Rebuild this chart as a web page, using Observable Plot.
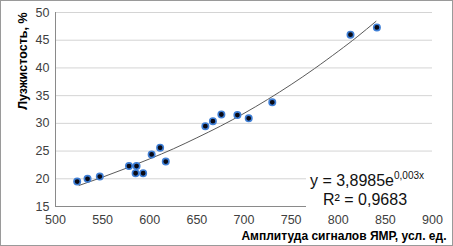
<!DOCTYPE html>
<html>
<head>
<meta charset="utf-8">
<script src="https://cdn.jsdelivr.net/npm/d3@7"></script>
<script src="https://cdn.jsdelivr.net/npm/@observablehq/plot@0.6"></script>
<style>
  body { margin: 0; background: #fff; }
  #chart svg { display: block; outline: 1.5px solid #9a9a9a; outline-offset: -1px; }
</style>
</head>
<body>
<div id="chart"></div>
<script>
// Observed data: amplitude of NMR signal (x) vs. hull content, % (y)
const amplitude = [523, 534, 547, 578, 586, 585, 593, 602, 611, 617, 659, 667, 676, 693, 705, 730, 813, 841];
const hullPct   = [19.5, 20.0, 20.4, 22.3, 22.3, 21.0, 21.0, 24.4, 25.6, 23.1, 29.5, 30.4, 31.6, 31.5, 30.9, 33.8, 46.0, 47.3];

// Exponential trendline, values
const trendX = [525, 550, 575, 600, 625, 650, 675, 700, 725, 750, 775, 800, 820, 840];
const trendY = [18.8, 20.3, 21.9, 23.6, 25.4, 27.4, 29.5, 31.8, 34.3, 37.0, 39.9, 43.0, 45.6, 48.4];

const xTicks = [500, 550, 600, 650, 700, 750, 800, 850, 900];
const yTicks = [15, 20, 25, 30, 35, 40, 45, 50];

const eqMain = "y = 3,8985e";
const eqSup = "0,003x";
const eqR2 = "R² = 0,9683";
const xTitle = "Амплитуда сигналов ЯМР, усл. ед.";
const yTitle = "Лузжистость, %";

const points = amplitude.map((x, i) => ({x, y: hullPct[i]}));
const trend = trendX.map((x, i) => ({x, y: trendY[i]}));

const W = 453, H = 246;
const mL = 55, mR = 21, mT = 12, mB = 40;

const equationBox = (index, scales, values, dims) => {
  const g = d3.create("svg:g");
  const right = dims.width - dims.marginRight;
  const bottom = dims.height - dims.marginBottom;
  g.append("rect")
    .attr("x", right - 126).attr("y", bottom - 37)
    .attr("width", 127).attr("height", 45)
    .attr("fill", "#fff");
  const t1 = g.append("text")
    .attr("x", right - 65).attr("y", bottom - 20)
    .attr("text-anchor", "middle")
    .attr("font-family", "Liberation Sans, Arial, sans-serif")
    .attr("font-size", 16).attr("fill", "#111");
  t1.append("tspan").text(eqMain);
  t1.append("tspan").attr("font-size", 10).attr("dy", -7).text(eqSup);
  g.append("text")
    .attr("x", right - 67).attr("y", bottom - 1)
    .attr("text-anchor", "middle")
    .attr("font-family", "Liberation Sans, Arial, sans-serif")
    .attr("font-size", 16).attr("fill", "#111")
    .text(eqR2);
  return g.node();
};

const chart = Plot.plot({
  width: W,
  height: H,
  marginLeft: mL,
  marginRight: mR,
  marginTop: mT,
  marginBottom: mB,
  style: {fontFamily: "Liberation Sans, Arial, sans-serif", fontSize: "12.5px", color: "#404040", background: "#fff", overflow: "visible"},
  x: {domain: [500, 900], ticks: xTicks, tickSize: 0, tickPadding: 9, label: null},
  y: {domain: [15, 50], ticks: yTicks, tickSize: 0, tickPadding: 6, label: null},
  marks: [
    Plot.gridY(yTicks, {stroke: "#d4d4d4", strokeOpacity: 1, strokeWidth: 1}),
    Plot.ruleX([500], {stroke: "#8a8a8a", strokeWidth: 1}),
    Plot.ruleY([15], {stroke: "#8a8a8a", strokeWidth: 1}),
    Plot.line(trend, {x: "x", y: "y", curve: "natural", stroke: "#5a5a5a", strokeWidth: 1}),
    Plot.dot(points, {x: "x", y: "y", r: 3.2, fill: "#0a0a14", stroke: "#3f7fd6", strokeWidth: 1.6}),
    equationBox,
    Plot.text([xTitle], {frameAnchor: "bottom-right", dx: 14, dy: 33, textAnchor: "end", fontWeight: "bold", fontSize: 12, fill: "#000"}),
    Plot.text([yTitle], {frameAnchor: "top-left", rotate: -90, dx: -37, dy: 0, textAnchor: "end", fontWeight: "bold", fontSize: 12.5, fill: "#000"})
  ]
});

document.getElementById("chart").appendChild(chart);
</script>
</body>
</html>
